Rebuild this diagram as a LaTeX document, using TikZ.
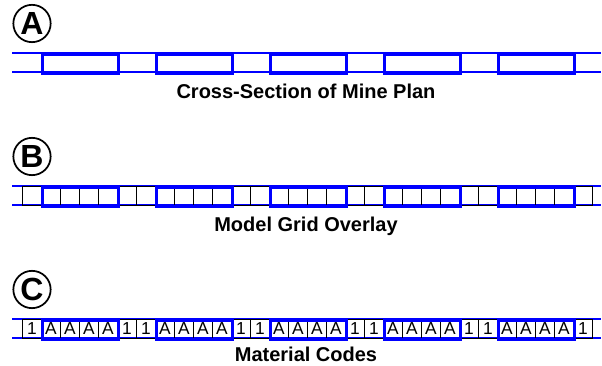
\documentclass[tikz,border=0pt]{standalone}
\usepackage{fontspec}
\setmainfont{Liberation Sans}
\usetikzlibrary{positioning}
\definecolor{seamblue}{RGB}{0,0,255}

\begin{document}
\begin{tikzpicture}[x=0.75pt,y=-0.75pt,
  rail/.style={draw=seamblue,line width=1pt},
  seam/.style={draw=seamblue,line width=2.3pt,minimum width=57pt,minimum height=14.25pt,
               inner sep=0pt,anchor=north west},
  cell/.style={draw=black,line width=0.7pt,minimum width=14.25pt,minimum height=14.25pt,
               inner sep=0pt,anchor=north west,font=\fontsize{13}{13}\selectfont},
  tag/.style={circle,draw,line width=1.3pt,minimum size=28pt,inner sep=0pt,
              font=\bfseries\fontsize{24}{24}\selectfont},
  title/.style={anchor=base,inner sep=0pt,font=\bfseries\fontsize{15}{15}\selectfont}]
  \useasboundingbox (0,0) rectangle (602,366);
  % rows A, B, C
  \foreach \r/\t in {0/A,1/B,2/C}{
    \node[tag] (tag\t) at (32,23.5+133*\r) {\t};
    \coordinate (railL\t) at (12,53+133*\r);
    \coordinate (railR\t) at (601,53+133*\r);
    \draw[rail] (railL\t) -- (railR\t);
    \draw[rail] ([yshift=-14.25pt]railL\t) -- ([yshift=-14.25pt]railR\t);
  }
  % grid cells (B) and material codes (C)
  \foreach \i in {0,...,29}{
    \pgfmathtruncatemacro{\m}{mod(\i,6)}
    \ifnum\m=0 \def\code{1}\else\ifnum\m=5 \def\code{1}\else\def\code{A}\fi\fi
    \node[cell] (gridB-\i) at (22+19*\i,186) {};
    \node[cell] (gridC-\i) at (22+19*\i,319) {\code};
  }
  % mined blocks
  \foreach \r/\t in {0/A,1/B,2/C}
    \foreach \k in {0,...,4}
      \node[seam] (blk\t-\k) at (41+114*\k,53+133*\r) {};
  \node[title] (titleA) at (306,99)  {Cross-Section of Mine Plan};
  \node[title] (titleB) at (306,232) {Model Grid Overlay};
  \node[title] (titleC) at (306,361) {Material Codes};
\end{tikzpicture}
\end{document}
